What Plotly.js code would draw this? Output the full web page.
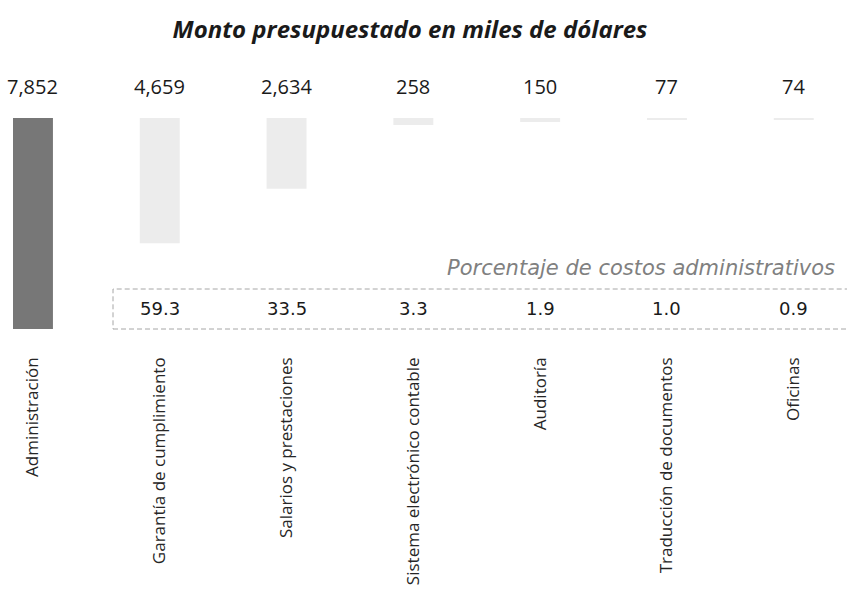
<!DOCTYPE html>
<html>
<head>
<meta charset="utf-8">
<script src="https://cdn.plot.ly/plotly-3.0.1.min.js"></script>
<style>html,body{margin:0;padding:0;background:#fff;}#chart{width:847px;height:594px;}</style>
</head>
<body>
<div id="chart"></div>
<script>
const categories = ["Administración", "Garantía de cumplimiento", "Salarios y prestaciones", "Sistema electrónico contable", "Auditoría", "Traducción de documentos", "Oficinas"];
const amounts = [7852, 4659, 2634, 258, 150, 77, 74];
const pctCategories = ["Garantía de cumplimiento", "Salarios y prestaciones", "Sistema electrónico contable", "Auditoría", "Traducción de documentos", "Oficinas"];
const pctValues = [59.3, 33.5, 3.3, 1.9, 1.0, 0.9];
const titleText = "Monto presupuestado en miles de dólares";
const pctLabel = "Porcentaje de costos administrativos";

const barColors = categories.map((c, i) => i === 0 ? "#777777" : "#ececec");

const trace = {
  type: "bar",
  x: categories,
  y: amounts,
  marker: {color: barColors, line: {width: 0}},
  width: 0.315,
  hoverinfo: "none"
};

const annotations = [];
categories.forEach((c, i) => {
  annotations.push({
    xref: "x", yref: "paper", x: c, y: 1, yshift: 32,
    xanchor: "center", yanchor: "middle", showarrow: false,
    text: amounts[i].toLocaleString("en-US"),
    font: {family: "Open Sans", size: 20, color: "#1a1a1a"}
  });
});
pctCategories.forEach((c, i) => {
  annotations.push({
    xref: "x", yref: "paper", x: c, y: 0.1586,
    xanchor: "center", yanchor: "middle", showarrow: false,
    text: pctValues[i].toFixed(1),
    font: {family: "DejaVu Sans", size: 18, color: "#1a1a1a"}
  });
});
annotations.push({
  xref: "paper", yref: "paper", x: 837 / 847, y: 1 - (268 - 118) / 227,
  xanchor: "right", yanchor: "middle", showarrow: false,
  text: pctLabel,
  font: {family: "DejaVu Sans", size: 21, color: "#808080", style: "italic"}
});

const layout = {
  width: 847, height: 594,
  margin: {l: 0, r: 0, t: 118, b: 249, pad: 0},
  paper_bgcolor: "#ffffff", plot_bgcolor: "#ffffff",
  showlegend: false,
  title: {
    text: titleText,
    x: 410 / 847, xref: "paper", xanchor: "center",
    y: 1 - 30 / 594, yref: "container", yanchor: "middle",
    font: {family: "Open Sans", size: 24, weight: 700, style: "italic", color: "#1a1a1a"}
  },
  xaxis: {
    type: "category",
    range: [-0.26, 6.42],
    showgrid: false, zeroline: false, showline: false, ticks: "",
    tickangle: -90,
    ticklabelstandoff: 8,
    tickfont: {family: "Open Sans", size: 17, color: "#262626"},
    fixedrange: true
  },
  yaxis: {
    range: [8448, 0],
    visible: false,
    showgrid: false, zeroline: false,
    fixedrange: true
  },
  shapes: [{
    type: "rect", xref: "paper", yref: "paper",
    x0: 113 / 847, x1: 1.05, y0: 1 - (329 - 118) / 227, y1: 1 - (289 - 118) / 227,
    line: {color: "#a6a6a6", width: 1, dash: "5px,3px"},
    fillcolor: "rgba(0,0,0,0)"
  }],
  annotations: annotations
};

Plotly.newPlot("chart", [trace], layout, {displayModeBar: false, staticPlot: true});
</script>
</body>
</html>
